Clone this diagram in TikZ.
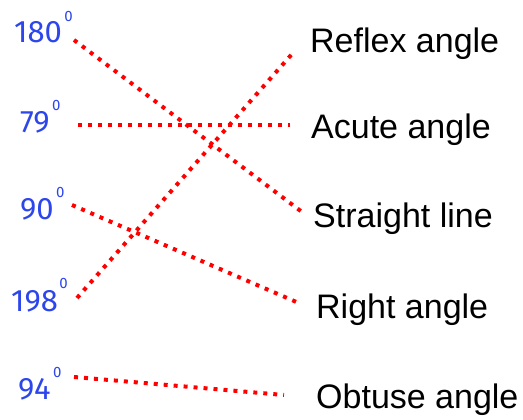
\documentclass[tikz,border=0pt]{standalone}
\usepackage{fontspec}
\setmainfont{Liberation Sans}
\newfontfamily\numfont{Fira Sans}
\definecolor{numblue}{RGB}{45,70,235}
\definecolor{dotred}{RGB}{255,0,0}
\begin{document}
\begin{tikzpicture}[x=1pt,y=1pt,
  numlabel/.style={anchor=base west,inner sep=0pt,text=numblue,font=\numfont\fontsize{31}{31}\selectfont},
  suplabel/.style={anchor=base west,inner sep=0pt,text=numblue,font=\numfont\fontsize{15}{15}\selectfont},
  namelabel/.style={anchor=base west,inner sep=0pt,text=black,font=\fontsize{34}{34}\selectfont},
  dotline/.style={draw=dotred,line width=4pt,dash pattern=on 4pt off 6pt}]
\useasboundingbox (0,0) rectangle (523,420);
% left numbers
\node[numlabel] (n180) at (14,377) {180};
\node[suplabel] (s180) at ([xshift=2pt,yshift=21pt]n180.base east) {0};
\node[numlabel] (n79) at (20,287) {79};
\node[suplabel] (s79) at ([xshift=2pt,yshift=22pt]n79.base east) {0};
\node[numlabel] (n90) at (20,200) {90};
\node[suplabel] (s90) at ([xshift=2pt,yshift=22pt]n90.base east) {0};
\node[numlabel] (n198) at (11,108) {198};
\node[suplabel] (s198) at ([xshift=1pt,yshift=23pt]n198.base east) {0};
\node[numlabel] (n94) at (18,20) {94};
\node[suplabel] (s94) at ([xshift=2pt,yshift=22pt]n94.base east) {0};
% right names
\node[namelabel] (reflex) at (310,367) {Reflex angle};
\node[namelabel] (acute) at (311,281) {Acute angle};
\node[namelabel] (straight) at (313,192) {Straight line};
\node[namelabel] (right) at (316,101) {Right angle};
\node[namelabel] (obtuse) at (316,11) {Obtuse angle};
% connector ends
\coordinate (a180) at (74,380);
\coordinate (a79) at (78,295);
\coordinate (a90) at (72,215);
\coordinate (a198) at (77,122);
\coordinate (a94) at (74,43);
\coordinate (breflex) at (292,366);
\coordinate (bacute) at (290,295);
\coordinate (bstraight) at (302,208);
\coordinate (bright) at (301,116);
\coordinate (bobtuse) at (284,25);
\draw[dotline] (a180) -- (bstraight);
\draw[dotline] (a79) -- (bacute);
\draw[dotline] (a90) -- (bright);
\draw[dotline] (a198) -- (breflex);
\draw[dotline] (a94) -- (bobtuse);
\end{tikzpicture}
\end{document}
